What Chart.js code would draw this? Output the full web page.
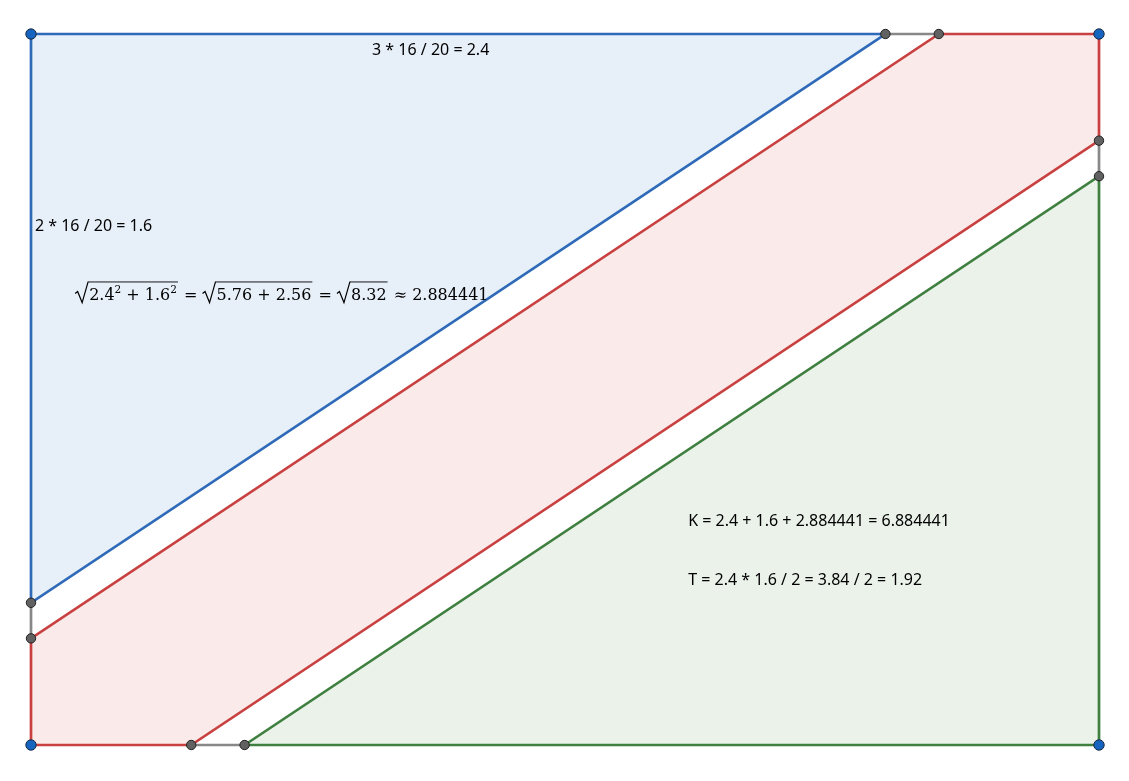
<!DOCTYPE html>
<html>
<head>
<meta charset="utf-8">
<script src="https://cdn.jsdelivr.net/npm/chart.js@4/dist/chart.umd.min.js"></script>
<style>
  html, body { margin: 0; padding: 0; background: #fff; }
  #wrap { width: 1129px; height: 781px; position: relative; }
</style>
</head>
<body>
<div id="wrap"><canvas id="chart"></canvas></div>
<script>
// polygon vertices (rectangle 3 x 2)
const blueTriangle = [[0, 2], [2.4, 2], [0, 0.4]];
const redHexagon = [[0, 0], [0.45, 0], [3, 1.7], [3, 2], [2.55, 2], [0, 0.3]];
const greenTriangle = [[0.6, 0], [3, 0], [3, 1.6]];
const graySegments = [
  [[2.4, 2], [2.55, 2]],
  [[0, 0.4], [0, 0.3]],
  [[0.45, 0], [0.6, 0]],
  [[3, 1.7], [3, 1.6]]
];
const cornerPoints = [[0, 2], [3, 2], [0, 0], [3, 0]];
const otherPoints = [[2.4, 2], [2.55, 2], [0, 0.4], [0, 0.3], [0.45, 0], [0.6, 0], [3, 1.7], [3, 1.6]];

// text labels: [x, y, text]
const labels = [
  [0.958, 1.955, '3 * 16 / 20 = 2.4'],
  [0.011, 1.46, '2 * 16 / 20 = 1.6'],
  [1.846, 0.630, 'K = 2.4 + 1.6 + 2.884441 = 6.884441'],
  [1.846, 0.464, 'T = 2.4 * 1.6 / 2 = 3.84 / 2 = 1.92']
];
const formulaPos = [0.124, 1.253];

function pts(list, close) {
  let p = list.map(v => ({ x: v[0], y: v[1] }));
  if (close) p.push({ x: list[0][0], y: list[0][1] });
  return p;
}

function polygon(list, line, fill) {
  return {
    data: pts(list, true),
    borderColor: line,
    backgroundColor: fill,
    borderWidth: 2.7,
    fill: 'shape',
    pointRadius: 0,
    showLine: true,
    tension: 0
  };
}

let datasets = [
  {
    data: pts(cornerPoints),
    pointRadius: 5.2,
    pointBackgroundColor: '#1565c0',
    pointBorderColor: '#1a2a44',
    pointBorderWidth: 1,
    showLine: false
  },
  {
    data: pts(otherPoints),
    pointRadius: 4.7,
    pointBackgroundColor: '#616161',
    pointBorderColor: '#222',
    pointBorderWidth: 1,
    showLine: false
  }
];
graySegments.forEach(s => {
  datasets.push({
    data: pts(s),
    borderColor: '#888888',
    borderWidth: 2.7,
    pointRadius: 0,
    showLine: true
  });
});
datasets.push(polygon(blueTriangle, '#2e6ab8', 'rgba(21,101,192,0.1)'));
datasets.push(polygon(redHexagon, '#c94040', 'rgba(211,47,47,0.1)'));
datasets.push(polygon(greenTriangle, '#3f7f3f', 'rgba(46,125,50,0.1)'));

const textPlugin = {
  id: 'texts',
  afterDatasetsDraw(chart) {
    const ctx = chart.ctx;
    const xs = chart.scales.x, ys = chart.scales.y;
    ctx.save();
    ctx.fillStyle = '#000';
    ctx.font = '16px "Noto Sans"';
    ctx.textBaseline = 'middle';
    labels.forEach(l => {
      ctx.fillText(l[2], xs.getPixelForValue(l[0]), ys.getPixelForValue(l[1]));
    });

    // formula: sqrt(2.4^2 + 1.6^2) = sqrt(5.76 + 2.56) = sqrt(8.32) ≈ 2.884441
    let x = xs.getPixelForValue(formulaPos[0]);
    let b = ys.getPixelForValue(formulaPos[1]);
    const big = '16px "DejaVu Serif"', small = '10.5px "DejaVu Serif"';
    ctx.textBaseline = 'alphabetic';
    ctx.strokeStyle = '#000';
    function run(parts) {
      parts.forEach(p => {
        ctx.font = p.sup ? small : big;
        ctx.fillText(p.t, x, p.sup ? b - 7 : b);
        x += ctx.measureText(p.t).width;
      });
    }
    function radical(parts) {
      let x0 = x;
      ctx.lineWidth = 1.2;
      ctx.beginPath();
      ctx.moveTo(x0, b - 6);
      ctx.lineTo(x0 + 2.5, b - 8);
      ctx.lineTo(x0 + 7, b + 3);
      ctx.lineTo(x0 + 13, b - 18);
      ctx.stroke();
      x = x0 + 14;
      run(parts);
      ctx.lineWidth = 0.9;
      ctx.beginPath();
      ctx.moveTo(x0 + 13, b - 17.6);
      ctx.lineTo(x + 1, b - 17.6);
      ctx.stroke();
      x += 2;
    }
    radical([{ t: '2.4' }, { t: '2', sup: true }, { t: ' + 1.6' }, { t: '2', sup: true }]);
    run([{ t: ' = ' }]);
    radical([{ t: '5.76 + 2.56' }]);
    run([{ t: ' = ' }]);
    radical([{ t: '8.32' }]);
    run([{ t: ' \u2248 2.884441' }]);
    ctx.restore();
  }
};

new Chart(document.getElementById('chart'), {
  type: 'scatter',
  data: { datasets: datasets },
  options: {
    responsive: true,
    maintainAspectRatio: false,
    animation: false,
    layout: { padding: 0, autoPadding: false },
    plugins: { legend: { display: false }, tooltip: { enabled: false } },
    scales: {
      x: { type: 'linear', display: false, min: -31 / 356, max: 3 + 30 / 356 },
      y: { type: 'linear', display: false, min: -36 / 355.5, max: 2 + 34 / 355.5 }
    }
  },
  plugins: [textPlugin]
});
</script>
</body>
</html>
